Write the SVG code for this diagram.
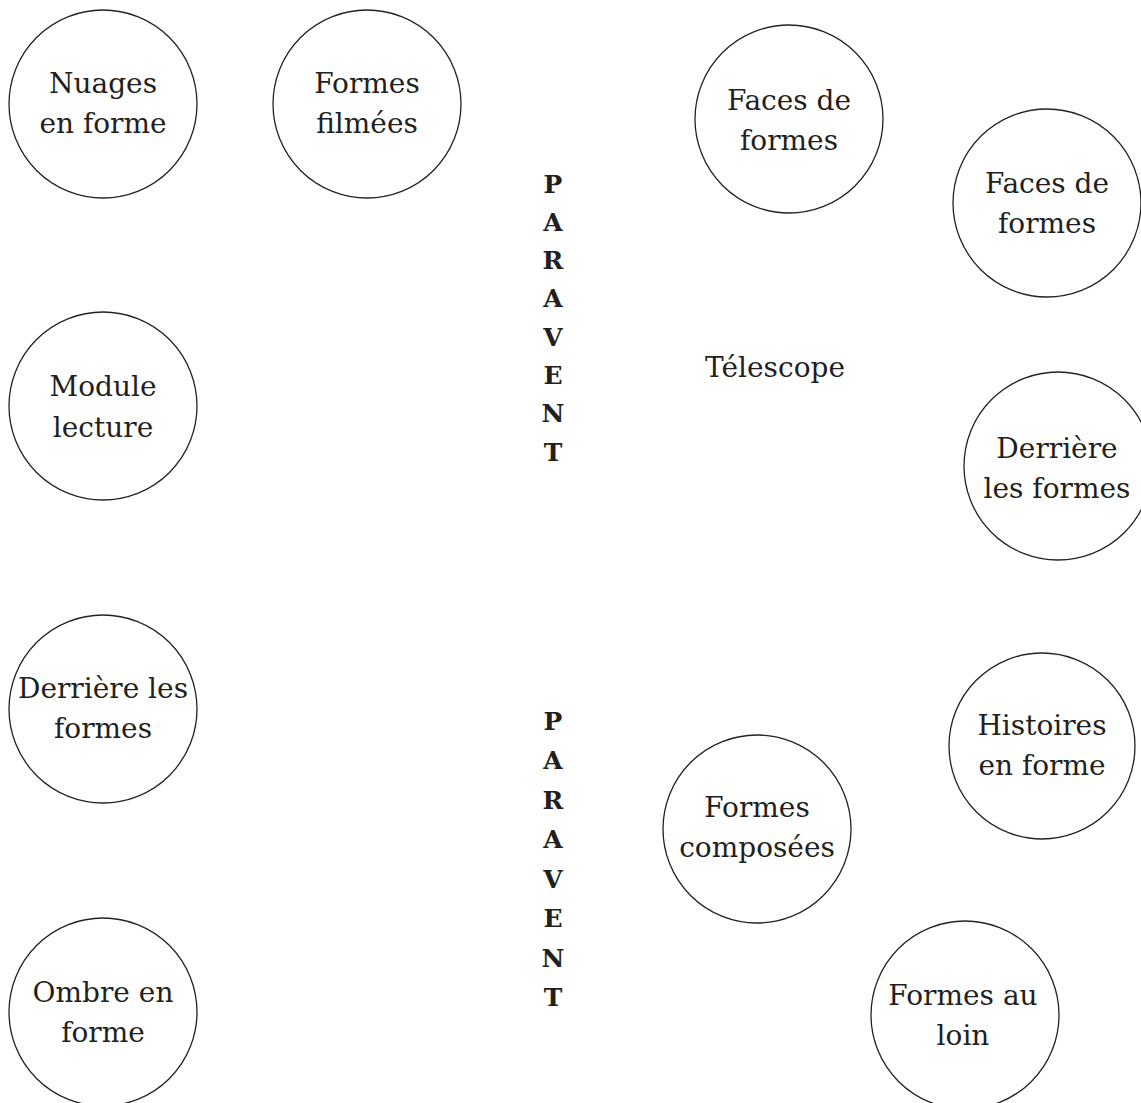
<svg xmlns="http://www.w3.org/2000/svg" width="1141" height="1103" viewBox="0 0 1141 1103">
<style>
.n circle{fill:none;stroke:#222;stroke-width:1.3}
.n text,.lbl{font-family:"DejaVu Serif","Liberation Serif",serif;font-size:28px;fill:#231f20;text-anchor:middle}
.pv{font-family:"DejaVu Serif","Liberation Serif",serif;font-size:25px;font-weight:bold;fill:#231f20;text-anchor:middle}
</style>
<rect width="1141" height="1103" fill="#fff"/>
<g id="connectors"/>
<g id="nuages" class="n"><circle cx="103" cy="104" r="94"/><text x="103" y="93">Nuages</text><text x="103" y="133">en forme</text></g>
<g id="filmees" class="n"><circle cx="367" cy="104" r="94"/><text x="367" y="93">Formes</text><text x="367" y="133">filmées</text></g>
<g id="faces1" class="n"><circle cx="789" cy="119" r="94"/><text x="789" y="110">Faces de</text><text x="789" y="150">formes</text></g>
<g id="faces2" class="n"><circle cx="1047" cy="203" r="94"/><text x="1047" y="193">Faces de</text><text x="1047" y="233">formes</text></g>
<g id="module" class="n"><circle cx="103" cy="406" r="94"/><text x="103" y="396">Module</text><text x="103" y="437">lecture</text></g>
<g id="derriere2" class="n"><circle cx="1058" cy="466" r="94"/><text x="1057" y="458">Derrière</text><text x="1057" y="498">les formes</text></g>
<g id="derriere1" class="n"><circle cx="103" cy="709" r="94"/><text x="103" y="698">Derrière les</text><text x="103" y="738">formes</text></g>
<g id="histoires" class="n"><circle cx="1042" cy="746" r="93"/><text x="1042" y="735">Histoires</text><text x="1042" y="775">en forme</text></g>
<g id="composees" class="n"><circle cx="757" cy="829" r="94"/><text x="757" y="817">Formes</text><text x="757" y="857">composées</text></g>
<g id="ombre" class="n"><circle cx="103" cy="1012" r="94"/><text x="103" y="1002">Ombre en</text><text x="103" y="1042">forme</text></g>
<g id="loin" class="n"><circle cx="965" cy="1015" r="94"/><text x="963" y="1005">Formes au</text><text x="963" y="1045">loin</text></g>
<g id="telescope"><text class="lbl" x="775" y="377">Télescope</text></g>
<g id="paravent1" class="pv">
<text x="553" y="193">P</text><text x="553" y="231">A</text><text x="553" y="269">R</text><text x="553" y="307">A</text><text x="553" y="346">V</text><text x="553" y="384">E</text><text x="553" y="422">N</text><text x="553" y="461">T</text>
</g>
<g id="paravent2" class="pv">
<text x="553" y="730">P</text><text x="553" y="769">A</text><text x="553" y="809">R</text><text x="553" y="848">A</text><text x="553" y="888">V</text><text x="553" y="927">E</text><text x="553" y="967">N</text><text x="553" y="1006">T</text>
</g>
</svg>
